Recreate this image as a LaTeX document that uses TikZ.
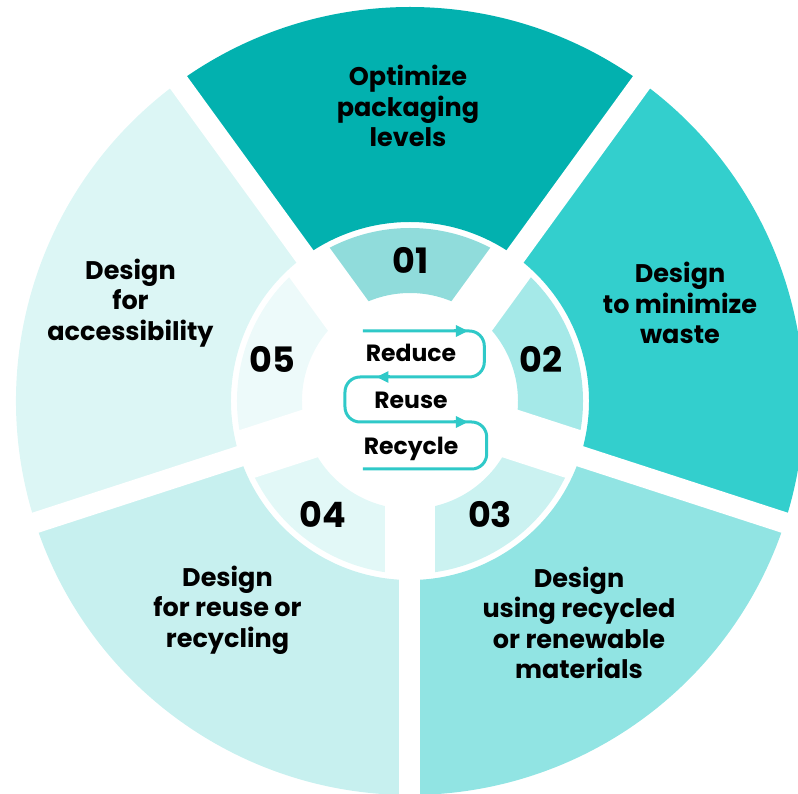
\documentclass[tikz,border=0pt]{standalone}
\usepackage{fontspec}
\setmainfont{Poppins}
\usetikzlibrary{arrows.meta}

\definecolor{outOne}{HTML}{02B1AF}
\definecolor{outTwo}{HTML}{33CFCD}
\definecolor{outThree}{HTML}{91E4E3}
\definecolor{outFour}{HTML}{C7F0EF}
\definecolor{outFive}{HTML}{DCF6F5}
\definecolor{inOne}{HTML}{90DCDB}
\definecolor{inTwo}{HTML}{A5E9E8}
\definecolor{inThree}{HTML}{CBF2F1}
\definecolor{inFour}{HTML}{E2F8F7}
\definecolor{inFive}{HTML}{EDFAFA}
\definecolor{flow}{HTML}{2FC9C8}

\begin{document}
\begin{tikzpicture}[x=1pt,y=1pt]
		\useasboundingbox (-410,-393) rectangle (388,401);
		\clip (-410,-393) rectangle (388,401);
		\begin{scope}
			\fill[inOne] (54:108) -- (54:173) arc[start angle=54,end angle=126,radius=173] -- (126:108) arc[start angle=126,end angle=54,radius=108] -- cycle;
			\fill[inTwo] (-18:108) -- (-18:173) arc[start angle=-18,end angle=54,radius=173] -- (54:108) arc[start angle=54,end angle=-18,radius=108] -- cycle;
			\fill[inThree] (-90:108) -- (-90:173) arc[start angle=-90,end angle=-18,radius=173] -- (-18:108) arc[start angle=-18,end angle=-90,radius=108] -- cycle;
			\fill[inFour] (198:108) -- (198:173) arc[start angle=198,end angle=270,radius=173] -- (270:108) arc[start angle=270,end angle=198,radius=108] -- cycle;
			\fill[inFive] (126:108) -- (126:173) arc[start angle=126,end angle=198,radius=173] -- (198:108) arc[start angle=198,end angle=126,radius=108] -- cycle;
		\end{scope}
		\begin{scope}[every path/.style={draw=white,line width=50pt}]
			\path (0,0) -- (54:175);
			\path (0,0) -- (126:175);
			\path (0,0) -- (198:175);
			\path (0,0) -- (270:175);
			\path (0,0) -- (-18:175);
		\end{scope}
		\begin{scope}
			\fill[outOne] (54:179) -- (54:394) arc[start angle=54,end angle=126,radius=394] -- (126:179) arc[start angle=126,end angle=54,radius=179] -- cycle;
			\fill[outTwo] (-18:179) -- (-18:394) arc[start angle=-18,end angle=54,radius=394] -- (54:179) arc[start angle=54,end angle=-18,radius=179] -- cycle;
			\fill[outThree] (-90:179) -- (-90:394) arc[start angle=-90,end angle=-18,radius=394] -- (-18:179) arc[start angle=-18,end angle=-90,radius=179] -- cycle;
			\fill[outFour] (198:179) -- (198:394) arc[start angle=198,end angle=270,radius=394] -- (270:179) arc[start angle=270,end angle=198,radius=179] -- cycle;
			\fill[outFive] (126:179) -- (126:394) arc[start angle=126,end angle=198,radius=394] -- (198:179) arc[start angle=198,end angle=126,radius=179] -- cycle;
		\end{scope}
		\begin{scope}[every path/.style={draw=white,line width=21pt}]
			\path (54:170) -- (54:420);
			\path (126:170) -- (126:420);
			\path (198:170) -- (198:420);
			\path (270:170) -- (270:420);
			\path (-18:170) -- (-18:420);
		\end{scope}
		\begin{scope}[every node/.style={align=center,font=\bfseries\fontsize{25.5}{30.5}\selectfont}]
			\node (L1) at (-2,295) {Optimize\\packaging\\levels};
			\node (L2) at (270,98) {Design\\to minimize\\waste};
			\node (L3) at (169,-222) {Design\\using recycled\\or renewable\\materials};
			\node (L4) at (-182.5,-209) {Design\\for reuse or\\recycling};
			\node (L5) at (-279.5,98) {Design\\for\\accessibility};
		\end{scope}
		\begin{scope}[every node/.style={anchor=base,font=\bfseries\fontsize{35}{40}\selectfont}]
			\node (N1) at (0.8,127.7) {01};
			\node (N2) at (131,28.3) {02};
			\node (N3) at (80,-126.3) {03};
			\node (N4) at (-87.3,-126.3) {04};
			\node (N5) at (-137.7,28.7) {05};
		\end{scope}
		\begin{scope}[every node/.style={anchor=base,font=\bfseries\fontsize{23.5}{27}\selectfont}]
			\node (Reduce) at (1,39.3) {Reduce};
			\node (Reuse) at (1,-8) {Reuse};
			\node (Recycle) at (1,-53.3) {Recycle};
		\end{scope}
		\coordinate (S) at (-47,70);
		\coordinate (C1) at (74.3,70);
		\coordinate (C2) at (74.3,24);
		\coordinate (C3) at (-65,24);
		\coordinate (C4) at (-65,-21);
		\coordinate (C5) at (76.7,-21);
		\coordinate (C6) at (76.7,-68);
		\coordinate (E) at (-47,-68);
		\coordinate (T1) at (58,70);
		\coordinate (T2) at (-33.5,24);
		\coordinate (T3) at (58,-21);
		\begin{scope}[>={Triangle[length=12pt,width=11pt]},
				every path/.style={draw=flow,line width=3pt}]
			\path [rounded corners=15pt] (S) -- (C1) -- (C2) -- (C3) -- (C4) -- (C5) -- (C6) -- (E);
			\path [->] ([xshift=-14pt]T1) -- (T1);
			\path [->] ([xshift=14pt]T2) -- (T2);
			\path [->] ([xshift=-14pt]T3) -- (T3);
		\end{scope}
	\end{tikzpicture}
\end{document}
